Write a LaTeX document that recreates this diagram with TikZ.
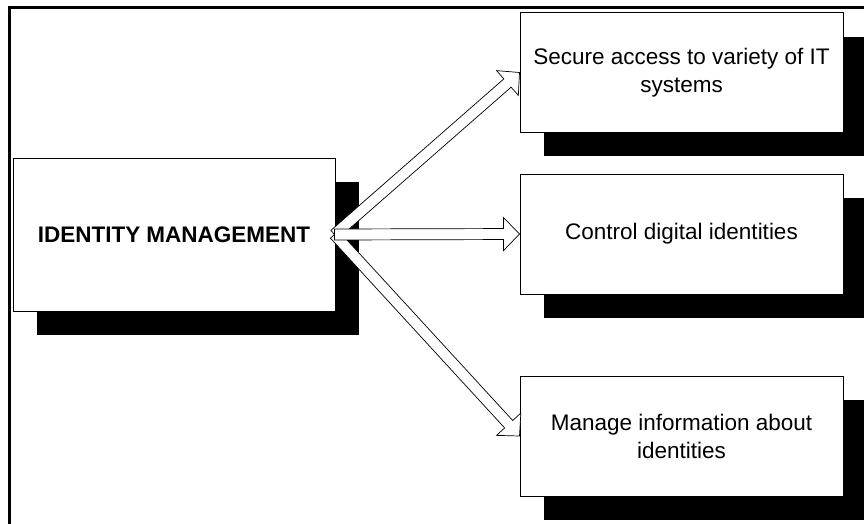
\documentclass[tikz,border=0pt]{standalone}
\usepackage{fontspec}
\setmainfont{Liberation Sans}
\usetikzlibrary{calc,shadows}
\newcommand\blockarr[3]{%
  \coordinate (#3h) at ($(#2)!16pt!(#1)$);
  \draw[arrowstyle] ($(#1)!5.5pt!90:(#2)$) -- ($(#3h)!5.5pt!90:(#2)$) -- ($(#3h)!16.5pt!90:(#2)$) -- (#2)
    -- ($(#3h)!16.5pt!-90:(#2)$) -- ($(#3h)!5.5pt!-90:(#2)$) -- ($(#1)!5.5pt!-90:(#2)$) -- cycle;
}
\begin{document}
\begin{tikzpicture}[x=1pt,y=-1pt,
  boxstyle/.style={draw=black, line width=1pt, fill=white, inner sep=0pt,
    general shadow={fill=black, draw=none, shadow xshift=24pt, shadow yshift=-24pt}},
  arrowstyle/.style={draw=black, line width=0.7pt, fill=white, line join=miter},
  txt/.style={font=\fontsize{22.5}{28}\selectfont, align=center}]
\clip (0,0) rectangle (864,524);
\useasboundingbox (0,0) rectangle (864,524);
\draw[line width=3pt] (9.5,540) -- (9.5,7.5) -- (880,7.5);
\node[boxstyle, minimum width=322pt, minimum height=153pt] (main) at (174,234.5) {};
\node[txt] at (main.center) {\bfseries IDENTITY MANAGEMENT};
\node[boxstyle, minimum width=323pt, minimum height=119pt] (b1) at (681.5,72.5) {};
\node[txt] at (b1.center) {Secure access to variety of IT\\systems};
\node[boxstyle, minimum width=323pt, minimum height=120pt] (b2) at (681.5,234) {};
\node[txt] at (b2.center) {Control digital identities};
\node[boxstyle, minimum width=323pt, minimum height=120pt] (b3) at (681.5,436) {};
\node[txt] at (b3.center) {Manage information about\\identities};
\coordinate (start) at ($(main.east)+(-1,0)$);
\blockarr{start}{b1.west}{a1}
\blockarr{start}{b3.west}{a3}
\blockarr{start}{b2.west}{a2}
\end{tikzpicture}
\end{document}
